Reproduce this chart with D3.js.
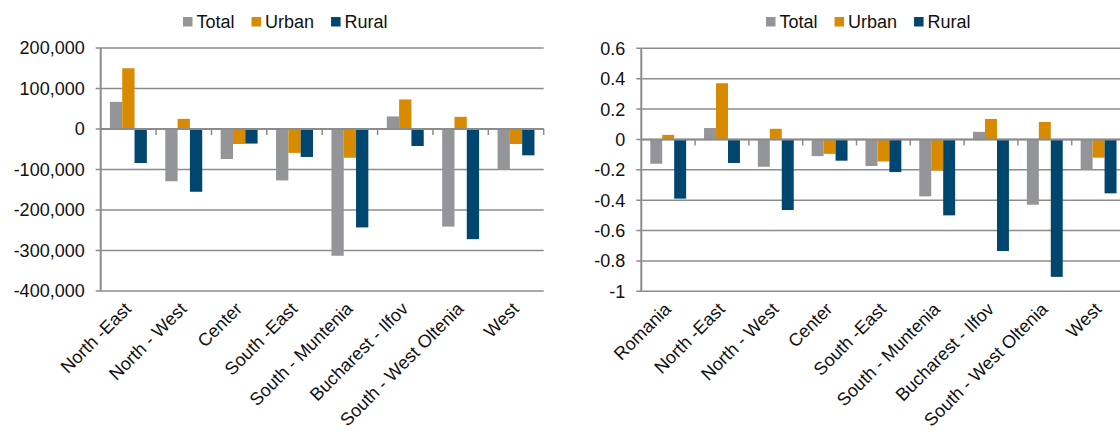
<!DOCTYPE html>
<html><head><meta charset="utf-8">
<script src="https://cdn.jsdelivr.net/npm/d3@7"></script>
<style>
body{margin:0;background:#fff}
svg{display:block}
text{font-family:"Liberation Sans",Arial,sans-serif;fill:#111}
</style>
</head><body>
<svg id="c" width="1120" height="434"></svg>
<script>
const seriesNames = ["Total", "Urban", "Rural"];
const seriesColors = ["#949599", "#d88b00", "#00466f"];

// Left chart: absolute change
const regionsAbs = ["North -East", "North - West", "Center", "South -East", "South - Muntenia", "Bucharest - Ilfov", "South - West Oltenia", "West"];
const totalAbs = [67000, -129000, -74000, -127000, -313000, 31000, -241000, -101000];
const urbanAbs = [150000, 25000, -37000, -59000, -71000, 73000, 30000, -37000];
const ruralAbs = [-84000, -155000, -36000, -69000, -243000, -42000, -272000, -65000];
const tickValsAbs = [200000, 100000, 0, -100000, -200000, -300000, -400000];
const tickLabelsAbs = ["200,000", "100,000", "0", "-100,000", "-200,000", "-300,000", "-400,000"];

// Right chart: relative change
const regionsRel = ["Romania", "North -East", "North - West", "Center", "South -East", "South - Muntenia", "Bucharest - Ilfov", "South - West Oltenia", "West"];
const totalRel = [-0.16, 0.075, -0.18, -0.11, -0.175, -0.375, 0.05, -0.43, -0.20];
const urbanRel = [0.03, 0.37, 0.07, -0.095, -0.145, -0.205, 0.135, 0.115, -0.12];
const ruralRel = [-0.39, -0.155, -0.465, -0.14, -0.215, -0.50, -0.735, -0.905, -0.355];
const tickValsRel = [0.6, 0.4, 0.2, 0, -0.2, -0.4, -0.6, -0.8, -1];
const tickLabelsRel = ["0.6", "0.4", "0.2", "0", "-0.2", "-0.4", "-0.6", "-0.8", "-1"];

const svg = d3.select("#c");
const FS = 18;
const gridColor = "#8c8c8c";

function drawChart(cfg) {
  const g = svg.append("g");
  const x0 = d3.scaleBand().domain(cfg.cats).range([cfg.left, cfg.right]).paddingInner(1/3).paddingOuter(1/6);
  const x1 = d3.scaleBand().domain(seriesNames).range([0, x0.bandwidth()]).padding(0);
  const y = d3.scaleLinear().domain([d3.min(cfg.ticks), d3.max(cfg.ticks)]).range([cfg.bottom, cfg.top]);
  const step = x0.step();

  // gridlines
  g.selectAll("line.grid").data(cfg.ticks).join("line")
    .attr("x1", cfg.left - 5).attr("x2", cfg.right)
    .attr("y1", d => y(d)).attr("y2", d => y(d))
    .attr("stroke", gridColor).attr("stroke-width", 1.5);

  // y-axis line
  g.append("line").attr("x1", cfg.left).attr("x2", cfg.left)
    .attr("y1", y.range()[1]).attr("y2", y.range()[0])
    .attr("stroke", gridColor).attr("stroke-width", 2);

  // y tick labels
  g.selectAll("text.yl").data(cfg.ticks).join("text")
    .attr("x", cfg.left - 16).attr("y", d => y(d)).attr("dy", "0.36em")
    .attr("text-anchor", "end").attr("font-size", FS)
    .text((d, i) => cfg.tickLabels[i]);

  // bars
  const rows = cfg.cats.map((c, i) => ({cat: c, vals: cfg.series.map((s, j) => ({name: seriesNames[j], v: s[i], color: seriesColors[j]}))}));
  const grp = g.selectAll("g.cat").data(rows).join("g").attr("transform", d => `translate(${x0(d.cat)},0)`);
  grp.selectAll("rect").data(d => d.vals).join("rect")
    .attr("x", d => x1(d.name)).attr("width", x1.bandwidth())
    .attr("y", d => Math.min(y(d.v), y(0))).attr("height", d => Math.abs(y(d.v) - y(0)))
    .attr("fill", d => d.color);

  // category axis at zero
  g.append("line").attr("x1", cfg.left).attr("x2", cfg.right)
    .attr("y1", y(0)).attr("y2", y(0)).attr("stroke", gridColor).attr("stroke-width", 2);
  g.selectAll("line.ct").data(d3.range(1, cfg.cats.length + 1)).join("line")
    .attr("x1", i => cfg.left + i * step).attr("x2", i => cfg.left + i * step)
    .attr("y1", y(0)).attr("y2", y(0) + 6)
    .attr("stroke", gridColor).attr("stroke-width", 1.5);

  // category labels
  g.selectAll("text.xl").data(cfg.cats).join("text")
    .attr("transform", d => `translate(${x0(d) + x0.bandwidth() / 2 + 4},${cfg.bottom + 19}) rotate(-45)`)
    .attr("text-anchor", "end").attr("font-size", FS)
    .text(d => d);

  // legend
  let lx = cfg.legendX;
  seriesNames.forEach((n, i) => {
    g.append("rect").attr("x", lx).attr("y", 17).attr("width", 9.5).attr("height", 9.5).attr("fill", seriesColors[i]);
    const t = g.append("text").attr("x", lx + 13.5).attr("y", 28).attr("font-size", FS).text(n);
    lx += 13.5 + t.node().getComputedTextLength() + 17;
  });
}

drawChart({
  cats: regionsAbs, series: [totalAbs, urbanAbs, ruralAbs],
  ticks: tickValsAbs, tickLabels: tickLabelsAbs,
  left: 100.7, right: 543.7, top: 48, bottom: 291, legendX: 183
});
drawChart({
  cats: regionsRel, series: [totalRel, urbanRel, ruralRel],
  ticks: tickValsRel, tickLabels: tickLabelsRel,
  left: 641.3, right: 641.3 + 9 * 53.8, top: 48.3, bottom: 291.3, legendX: 766
});
</script>
</body></html>
